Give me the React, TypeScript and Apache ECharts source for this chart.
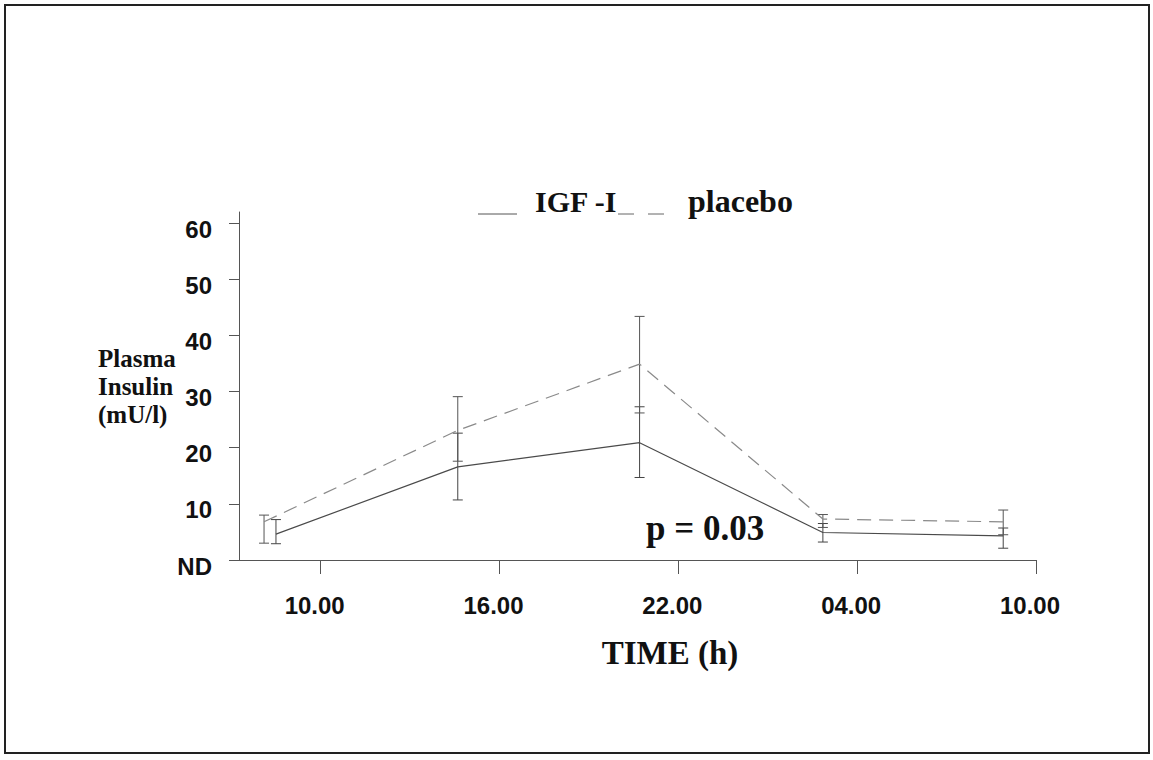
import React, { useEffect, useRef } from "react";
import * as echarts from "echarts";

// ---- data ----
const timeTicks = [10, 16, 22, 28, 34];
const timeTickLabels = ["10.00", "16.00", "22.00", "04.00", "10.00"];
const yTickValues = [0, 10, 20, 30, 40, 50, 60];
const yTickLabels = ["ND", "10", "20", "30", "40", "50", "60"];

const igfTimes = [8.5, 14.6, 20.7, 26.85, 32.9];
const igfMean = [4.6, 16.6, 20.9, 4.9, 4.3];
const igfLow = [2.9, 10.7, 14.7, 3.2, 2.1];
const igfHigh = [7.2, 22.6, 27.3, 6.5, 5.7];

const placeboTimes = [8.1, 14.6, 20.7, 26.85, 32.9];
const placeboMean = [6.8, 23.1, 34.9, 7.3, 6.8];
const placeboLow = [3.0, 17.6, 26.2, 5.8, 4.5];
const placeboHigh = [8.0, 29.1, 43.4, 8.1, 8.9];

const legendNames = ["IGF -I", "placebo"];
const pValueText = "p = 0.03";
const xTitle = "TIME (h)";
const yTitleLines = ["Plasma", "Insulin", "(mU/l)"];

const SERIF = "'Liberation Serif', 'Times New Roman', serif";
const SANS = "'Liberation Sans', Arial, sans-serif";

function errorBarSeries(times: number[], low: number[], high: number[], color: string) {
  return {
    type: "custom",
    silent: true,
    data: times.map((t, i) => [t, low[i], high[i]]),
    renderItem: (_params: any, api: any) => {
      const x = api.value(0);
      const pLo = api.coord([x, api.value(1)]);
      const pHi = api.coord([x, api.value(2)]);
      const cap = 5;
      const style = { stroke: color, lineWidth: 1, fill: null };
      return {
        type: "group",
        children: [
          { type: "line", shape: { x1: pLo[0], y1: pLo[1], x2: pHi[0], y2: pHi[1] }, style },
          { type: "line", shape: { x1: pLo[0] - cap, y1: pLo[1], x2: pLo[0] + cap, y2: pLo[1] }, style },
          { type: "line", shape: { x1: pHi[0] - cap, y1: pHi[1], x2: pHi[0] + cap, y2: pHi[1] }, style },
        ],
      };
    },
    z: 3,
  };
}

export default function App() {
  const ref = useRef<HTMLDivElement>(null);
  useEffect(() => {
    if (!ref.current) return;
    const chart = echarts.init(ref.current, null, { renderer: "svg" });
    const labelFor = (vals: number[], labels: string[]) => (v: number) => {
      const i = vals.findIndex((x) => Math.abs(x - v) < 1e-6);
      return i >= 0 ? `{t|${labels[i]}}` : "";
    };
    const tickFont = { fontFamily: SANS, fontWeight: "bold", fontSize: 24, color: "#111" };
    chart.setOption({
      animation: false,
      backgroundColor: "#ffffff",
      grid: { left: 239, top: 212, width: 797, height: 348 },
      xAxis: {
        type: "value",
        min: 7.26,
        max: 34,
        offset: 16,
        axisLine: { show: true, lineStyle: { color: "#555", width: 1 } },
        axisTick: { show: true, customValues: timeTicks, length: 14, lineStyle: { color: "#555" } },
        axisLabel: {
          customValues: timeTicks,
          formatter: labelFor(timeTicks, timeTickLabels),
          margin: 17,
          ...tickFont,
          rich: { t: { ...tickFont, padding: [0, 12, 0, 0] } },
        },
        splitLine: { show: false },
      },
      yAxis: {
        type: "value",
        min: 0,
        max: 62,
        axisLine: { show: true, lineStyle: { color: "#555", width: 1 } },
        axisTick: { show: true, customValues: yTickValues, length: 10, lineStyle: { color: "#555" } },
        axisLabel: {
          customValues: yTickValues,
          formatter: labelFor(yTickValues, yTickLabels),
          margin: 27,
          ...tickFont,
          rich: { t: { ...tickFont, padding: [12, 0, 0, 0] } },
        },
        splitLine: { show: false },
      },
      series: [
        {
          name: legendNames[0],
          type: "line",
          data: igfTimes.map((t, i) => [t, igfMean[i]]),
          symbol: "none",
          lineStyle: { color: "#4a4a4a", width: 1.2, type: "solid" },
          z: 4,
        },
        {
          name: legendNames[1],
          type: "line",
          data: placeboTimes.map((t, i) => [t, placeboMean[i]]),
          symbol: "none",
          lineStyle: { color: "#8a8a8a", width: 1.2, type: [14, 8] },
          z: 4,
        },
        errorBarSeries(igfTimes, igfLow, igfHigh, "#444"),
        errorBarSeries(placeboTimes, placeboLow, placeboHigh, "#555"),
      ],
      graphic: [
        {
          type: "rect",
          shape: { x: 5, y: 5, width: 1144, height: 748 },
          style: { stroke: "#222", lineWidth: 2, fill: null },
          silent: true,
        },
        {
          type: "line",
          shape: { x1: 478, y1: 214, x2: 517, y2: 214 },
          style: { stroke: "#555", lineWidth: 1 },
        },
        {
          type: "text",
          x: 535,
          y: 201,
          style: {
            text: legendNames[0],
            font: `bold 30px ${SERIF}`,
            fill: "#111",
            verticalAlign: "middle",
            align: "left",
          },
        },
        {
          type: "line",
          shape: { x1: 618, y1: 214, x2: 670, y2: 214 },
          style: { stroke: "#666", lineWidth: 1, lineDash: [16, 14] },
        },
        {
          type: "text",
          x: 688,
          y: 201,
          style: {
            text: legendNames[1],
            font: `bold 32px ${SERIF}`,
            fill: "#111",
            verticalAlign: "middle",
            align: "left",
          },
        },
        {
          type: "text",
          x: 646,
          y: 528,
          style: {
            text: pValueText,
            font: `bold 35px ${SERIF}`,
            fill: "#111",
            verticalAlign: "middle",
            align: "left",
          },
        },
        {
          type: "text",
          x: 670,
          y: 653,
          style: {
            text: xTitle,
            font: `bold 33px ${SERIF}`,
            fill: "#111",
            verticalAlign: "middle",
            align: "center",
          },
        },
        ...yTitleLines.map((line, i) => ({
          type: "text",
          x: 98,
          y: 358 + i * 28,
          style: {
            text: line,
            font: `bold 25px ${SERIF}`,
            fill: "#111",
            verticalAlign: "middle",
            align: "left",
          },
        })),
      ],
    });
    return () => chart.dispose();
  }, []);
  return (
    <div
      ref={ref}
      style={{ position: "fixed", left: 0, top: 0, width: 1153, height: 760, background: "#fff" }}
    />
  );
}
